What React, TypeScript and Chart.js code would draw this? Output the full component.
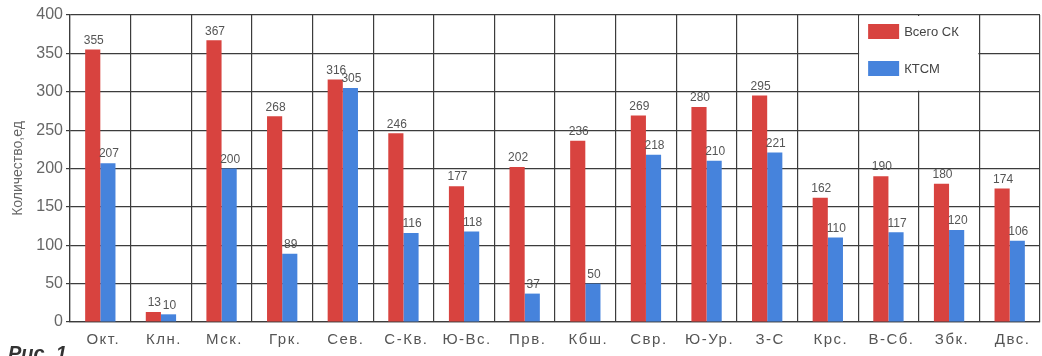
import React, { useEffect, useRef } from "react";
import { Chart, registerables } from "chart.js";

Chart.register(...registerables);

const categories = [
  "Окт.", "Клн.", "Мск.", "Грк.", "Сев.", "С-Кв.", "Ю-Вс.", "Прв.",
  "Кбш.", "Свр.", "Ю-Ур.", "З-С", "Крс.", "В-Сб.", "Збк.", "Двс.",
];
const totalSK = [355, 13, 367, 268, 316, 246, 177, 202, 236, 269, 280, 295, 162, 190, 180, 174];
const ktsm = [207, 10, 200, 89, 305, 116, 118, 37, 50, 218, 210, 221, 110, 117, 120, 106];
const seriesNames = ["Всего СК", "КТСМ"];
const yTicks = [0, 50, 100, 150, 200, 250, 300, 350, 400];

const RED = "#d8433f";
const BLUE = "#4683dc";
const GRID = "#3c3c3c";
const FONT = "'Liberation Sans', Arial, sans-serif";

// Value labels above every bar
const valueLabels = {
  id: "valueLabels",
  afterDatasetsDraw(chart: any) {
    const ctx = chart.ctx;
    ctx.save();
    ctx.font = `12px ${FONT}`;
    ctx.fillStyle = "#555";
    ctx.textAlign = "center";
    ctx.textBaseline = "bottom";
    chart.data.datasets.forEach((ds: any, i: number) => {
      const meta = chart.getDatasetMeta(i);
      meta.data.forEach((el: any, j: number) => {
        ctx.fillText(String(ds.data[j]), el.x + 1, el.y - 3);
      });
    });
    ctx.restore();
  },
};

// Category labels under the axis, drawn with letter spacing
const categoryLabels = {
  id: "categoryLabels",
  afterDraw(chart: any) {
    const ctx = chart.ctx;
    const x = chart.scales.x;
    ctx.save();
    ctx.font = `15px ${FONT}`;
    (ctx as any).letterSpacing = "1.5px";
    ctx.fillStyle = "#555";
    ctx.textAlign = "center";
    ctx.textBaseline = "middle";
    categories.forEach((c, i) => {
      ctx.fillText(c, x.getPixelForTick(i) + 3, x.top + 18);
    });
    ctx.restore();
  },
};

// Legend box placed over the plot grid, spanning two category cells
const boxLegend = {
  id: "boxLegend",
  beforeDatasetsDraw(chart: any) {
    const ctx = chart.ctx;
    const x = chart.scales.x;
    const y = chart.scales.y;
    const step = (x.right - x.left) / categories.length;
    const left = x.left + step * 13;
    const right = x.left + step * 15;
    const top = y.getPixelForValue(400);
    const bottom = y.getPixelForValue(300);
    ctx.save();
    ctx.fillStyle = "#ffffff";
    ctx.fillRect(left + 1, top + 1, right - left - 2, bottom - top - 2);
    const colors = [RED, BLUE];
    ctx.font = `13px ${FONT}`;
    ctx.textBaseline = "middle";
    ctx.textAlign = "left";
    seriesNames.forEach((name, i) => {
      const sy = top + 9 + i * 37;
      ctx.fillStyle = colors[i];
      ctx.fillRect(left + 10, sy, 31, 15);
      ctx.fillStyle = "#444";
      ctx.fillText(name, left + 46, sy + 8);
    });
    ctx.restore();
  },
};

// Figure caption at the bottom edge
const caption = {
  id: "caption",
  afterDraw(chart: any) {
    const ctx = chart.ctx;
    ctx.save();
    ctx.font = `italic bold 20px ${FONT}`;
    ctx.fillStyle = "#333";
    ctx.textBaseline = "top";
    ctx.textAlign = "left";
    ctx.fillText("Рис. 1", 8, 344);
    ctx.restore();
  },
};

export default function App() {
  const ref = useRef<HTMLCanvasElement>(null);

  useEffect(() => {
    if (!ref.current) return;
    const chart = new Chart(ref.current, {
      type: "bar",
      data: {
        labels: categories,
        datasets: [
          { label: seriesNames[0], data: totalSK, backgroundColor: RED },
          { label: seriesNames[1], data: ktsm, backgroundColor: BLUE },
        ],
      },
      options: {
        animation: false,
        responsive: false,
        layout: { padding: { top: 15, right: 2, left: 0, bottom: 0 } },
        datasets: {
          bar: { categoryPercentage: 0.5, barPercentage: 1.0 },
        },
        plugins: {
          legend: { display: false },
          tooltip: { enabled: false },
        },
        scales: {
          x: {
            grid: { color: GRID, lineWidth: 1.2, drawTicks: false, offset: true },
            border: { color: GRID, width: 1.2 },
            ticks: { display: false, autoSkip: false },
            afterFit(scale: any) {
              scale.height = 34;
            },
          },
          y: {
            min: 0,
            max: 400,
            afterBuildTicks(scale: any) {
              scale.ticks = yTicks.map((v) => ({ value: v }));
            },
            grid: { color: GRID, lineWidth: 1.2, tickLength: 4 },
            border: { color: GRID, width: 1.2 },
            ticks: {
              color: "#666",
              font: { family: FONT, size: 16 },
              padding: 3,
            },
            title: {
              display: true,
              text: "Количество,ед",
              color: "#666",
              font: { family: FONT, size: 14 },
              padding: { top: 10, bottom: 0 },
            },
            afterFit(scale: any) {
              scale.width = 70;
            },
          },
        },
      },
      plugins: [boxLegend, valueLabels, categoryLabels, caption],
    });
    return () => chart.destroy();
  }, []);

  return (
    <div style={{ position: "absolute", left: 0, top: 0, width: 1042, height: 356, background: "#fff" }}>
      <canvas ref={ref} width={1042} height={356} />
    </div>
  );
}
